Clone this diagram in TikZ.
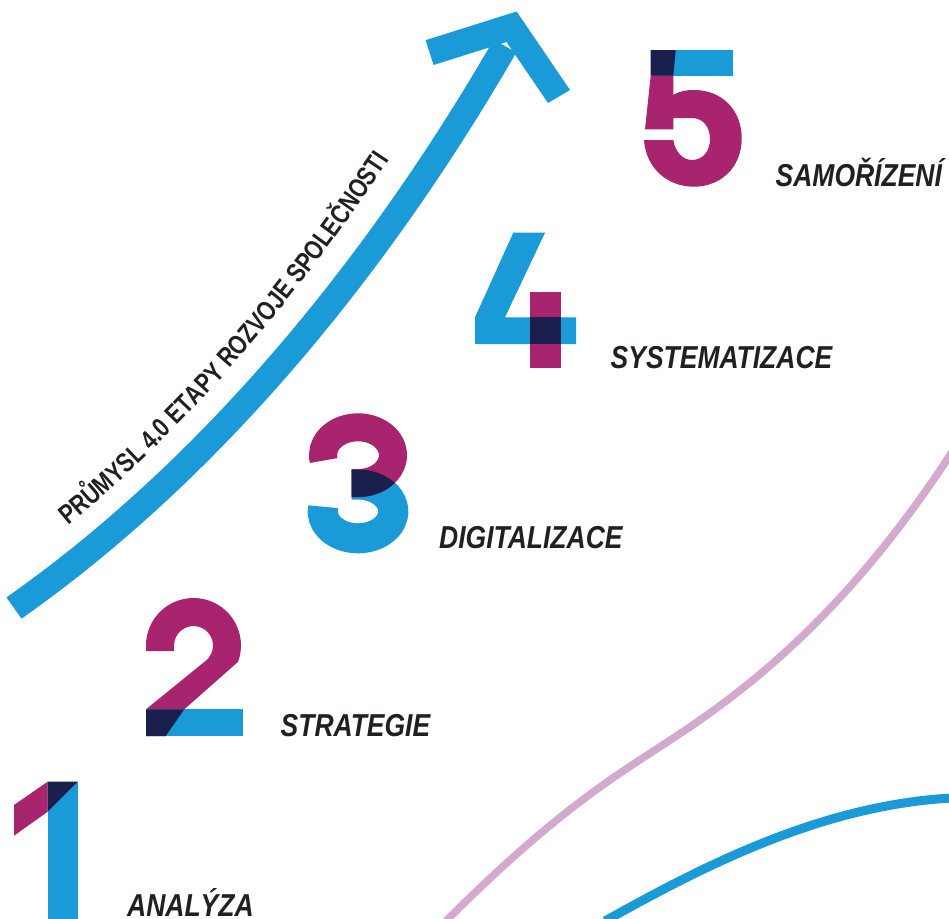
\documentclass[tikz,border=0pt]{standalone}
\usepackage{fontspec}
\newfontfamily\labelfont[FakeStretch=0.835]{Liberation Sans}
\newfontfamily\arrowfont[FakeStretch=0.8]{Liberation Sans}
\usetikzlibrary{decorations.text}
\definecolor{pblue}{HTML}{1A9AD7}
\definecolor{pmag}{HTML}{A8246F}
\definecolor{pnavy}{HTML}{1B1F4D}
\definecolor{ppink}{HTML}{D3A9CD}
\definecolor{ink}{HTML}{231F20}
\tikzset{
  stage/.style={anchor=base west, inner sep=0pt, text=ink,
    font=\labelfont\bfseries\itshape\fontsize{31.7}{32}\selectfont},
  bluefill/.style={fill=pblue, draw=none},
  magfill/.style={fill=pmag, draw=none},
  navyfill/.style={fill=pnavy, draw=none},
}
\begin{document}
\begin{tikzpicture}[x=1pt, y=-1pt]
\useasboundingbox (0,0) rectangle (949,918);
\fill[white] (0,0) rectangle (949,918);

% background swooshes
\draw[ppink, line width=7.5pt] (446,921) .. controls (546.8,820.2) and (604.6,782.7) .. (655,750)
   .. controls (722.2,706.4) and (833.8,634) .. (952,452);
\draw[pblue, line width=9pt] (605,921) .. controls (700,868) and (820,805) .. (952,798);

% rising arrow
\draw[pblue, line width=26pt] (14,608) .. controls (216,466) and (381.5,260) .. (505,46);
\fill[pblue] (516.6,11.5) -- (570,90) -- (548,103) -- (506.5,42) -- (433.6,65) -- (425.6,40.2) -- cycle;
\path[decorate, decoration={text along path, raise=4pt,
    text={|\arrowfont\bfseries\fontsize{27}{27}\selectfont\color{ink}|PRŮMYSL 4.0 ETAPY ROZVOJE SPOLEČNOSTI},
    text align={left indent=92pt}}]
  (-2.6,584.2) .. controls (199.4,442.2) and (351.2,242.5) .. (474.7,28.5);

% digit 1
\fill[bluefill] (47.7,781.7) rectangle (77.7,920);
\fill[magfill] (14,805) -- (47.7,781.7) -- (47.7,811.7) -- (14,835.7) -- cycle;
\fill[navyfill] (47.7,781.7) -- (77.7,781.7) -- (47.7,811.7) -- cycle;

% digit 2
\fill[magfill] (146,651) -- (146,645.5) arc[start angle=180, end angle=380, radius=47.5]
  -- (184.3,709.3) -- (165.7,736) -- (146,736) -- (146,709.3) -- (205.8,660.7)
  arc[start angle=51, end angle=-180, radius=19.5] -- (174,651) -- cycle;
\fill[bluefill] (146,709.3) rectangle (242.7,736);
\fill[navyfill] (146,709.3) -- (184.3,709.3) -- (165.7,736) -- (146,736) -- cycle;

% digit 3
\draw[pblue, line width=30pt] (358,511.4) ++(190:35.3 and 26.9)
  arc[start angle=190, end angle=-90, x radius=35.3, y radius=26.9] -- (351.7,484.5);
\draw[pmag, line width=28pt] (358,455.2) ++(169:35 and 27.9)
  arc[start angle=169, end angle=450, x radius=35, y radius=27.9] -- (351.7,483.1);
\begin{scope}
  \clip (351.7,400) rectangle (430,560);
  \clip (358,455.2) ellipse [x radius=49, y radius=41.9];
  \draw[pnavy, line width=30pt] (358,511.4) ++(190:35.3 and 26.9)
    arc[start angle=190, end angle=-90, x radius=35.3, y radius=26.9] -- (351.7,484.5);
\end{scope}

% digit 4
\fill[bluefill] (513.3,232.7) -- (545,232.7) -- (505,317.3) -- (576,317.3) -- (576,344)
  -- (475,344) -- (475,317.3) -- cycle;
\fill[magfill] (530,291.7) rectangle (560.7,368.3);
\fill[navyfill] (530,317.3) rectangle (560.7,344);

% digit 5
\fill[bluefill] (650.7,50) rectangle (732.7,75.7);
\fill[magfill] (650.7,75.7) -- (673.3,75.7) -- (673.3,95)
  .. controls (680,91) and (686,90) .. (694,90)
  .. controls (722,90) and (741.7,110) .. (741.7,138.5)
  .. controls (741.7,167) and (721,186.7) .. (694,186.7)
  .. controls (667,186.7) and (646,168) .. (644,140)
  -- (673.3,140)
  .. controls (675,152) and (683,160) .. (692,160)
  .. controls (703,160) and (710,151) .. (710,139)
  .. controls (710,127) and (703,118) .. (692,118)
  -- (673.3,118) -- (673.3,129.3) -- (645,129.3) -- cycle;
\fill[navyfill] (650.7,50) -- (675.7,50) -- (673.3,75.7) -- (650.7,75.7) -- cycle;

% stage labels
\node[stage] (l1) at (127,916.7) {ANALÝZA};
\node[stage] (l2) at (280.5,736.7) {STRATEGIE};
\node[stage] (l3) at (439,548.3) {DIGITALIZACE};
\node[stage] (l4) at (610.5,368.3) {SYSTEMATIZACE};
\node[stage] (l5) at (775.5,186.7) {SAMOŘÍZENÍ};
\end{tikzpicture}
\end{document}
